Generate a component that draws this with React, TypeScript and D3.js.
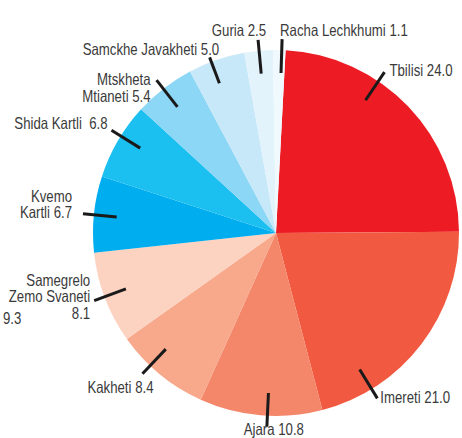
import React from "react";
import * as d3 from "d3";

const regions = [
  "Tbilisi", "Imereti", "Ajara", "Kakheti", "Samegrelo Zemo Svaneti",
  "Kvemo Kartli", "Shida Kartli", "Mtskheta Mtianeti", "Samckhe Javakheti",
  "Guria", "Racha Lechkhumi",
];
const values = [24.0, 21.0, 10.8, 8.4, 8.1, 6.7, 6.8, 5.4, 5.0, 2.5, 1.1];
const colors = [
  "#ED1C24", "#F15A40", "#F4866A", "#F8A88B", "#FCD2C0",
  "#00ADEE", "#1BC0F0", "#8CD6F6", "#C7E8F9", "#E2F3FC", "#F0F9FE",
];
// label lines of text (value appended in text)
const labelLines = [
  ["Tbilisi 24.0"],
  ["Imereti 21.0"],
  ["Ajara 10.8"],
  ["Kakheti 8.4"],
  ["Samegrelo", "Zemo Svaneti", "8.1"],
  ["Kvemo", "Kartli 6.7"],
  ["Shida Kartli  6.8"],
  ["Mtskheta", "Mtianeti 5.4"],
  ["Samckhe Javakheti 5.0"],
  ["Guria 2.5"],
  ["Racha Lechkhumi 1.1"],
];
const strayLabel = "9.3";

// layout: leader angle (deg, clockwise from 12 o'clock), outer radius factor, text offset from leader end
const leaderAngles = [34, 148.5, 182.7, 223.5, 249.6, 275.7, 302, 322, 339.3, 354.7, 1.8];
const leaderOuter = [1.06, 1.06, 1.06, 1.06, 1.06, 1.06, 1.06, 1.06, 1.026, 1.06, 1.06];
const textLayout = [
  { dx: 5, dy: 4, anchor: "start" },
  { dx: 3, dy: 5, anchor: "start" },
  { dx: 7, dy: 8, anchor: "middle" },
  { dx: -22, dy: 19, anchor: "middle" },
  { dx: -4, dy: -15, anchor: "end" },
  { dx: -11, dy: -12, anchor: "end" },
  { dx: -4, dy: -1, anchor: "end" },
  { dx: -6, dy: 5, anchor: "end" },
  { dx: 9.5, dy: -2.5, anchor: "end" },
  { dx: 8, dy: -4, anchor: "end" },
  { dx: -2, dy: -3, anchor: "start" },
];

const W = 462, H = 438;
const cx = 276, cy = 233, R = 183;
const lineH = 16.5;
const SX = 0.8;
const FS = 16.5;

export default function App() {
  const pie = d3
    .pie<number>()
    .sort(null)
    .startAngle((3 * Math.PI) / 180)
    .endAngle((363 * Math.PI) / 180)(values);
  const arc = d3.arc<d3.PieArcDatum<number>>().innerRadius(0).outerRadius(R);
  const rad = (deg: number) => (deg * Math.PI) / 180;
  const pt = (deg: number, r: number) => [cx + r * Math.sin(rad(deg)), cy - r * Math.cos(rad(deg))];
  const font = "'Liberation Sans', Arial, sans-serif";
  return (
    <svg width={W} height={H} style={{ position: "absolute", left: 0, top: 0 }}>
      <g transform={`translate(${cx},${cy})`}>
        {pie.map((d, i) => (
          <path key={regions[i]} d={arc(d) || ""} fill={colors[i]} />
        ))}
      </g>
      {leaderAngles.map((a, i) => {
        const [x1, y1] = pt(a, R * 0.875);
        const [x2, y2] = pt(a, R * leaderOuter[i]);
        const t = textLayout[i];
        return (
          <g key={"l" + i}>
            <line x1={x1} y1={y1} x2={x2} y2={y2} stroke="#1a1a1a" strokeWidth={3} />
            <text
              transform={`translate(${x2 + t.dx},${y2 + t.dy}) scale(${SX},1)`}
              textAnchor={t.anchor}
              fontFamily={font}
              fontSize={FS}
              fill="#3a3a3a"
              style={{ whiteSpace: "pre" }}
            >
              {labelLines[i].map((ln, j) => (
                <tspan key={j} x={0} dy={j === 0 ? 0 : lineH}>
                  {ln}
                </tspan>
              ))}
            </text>
          </g>
        );
      })}
      <text transform={`translate(3,324) scale(${SX},1)`} fontFamily={font} fontSize={FS} fill="#3a3a3a">
        {strayLabel}
      </text>
    </svg>
  );
}
